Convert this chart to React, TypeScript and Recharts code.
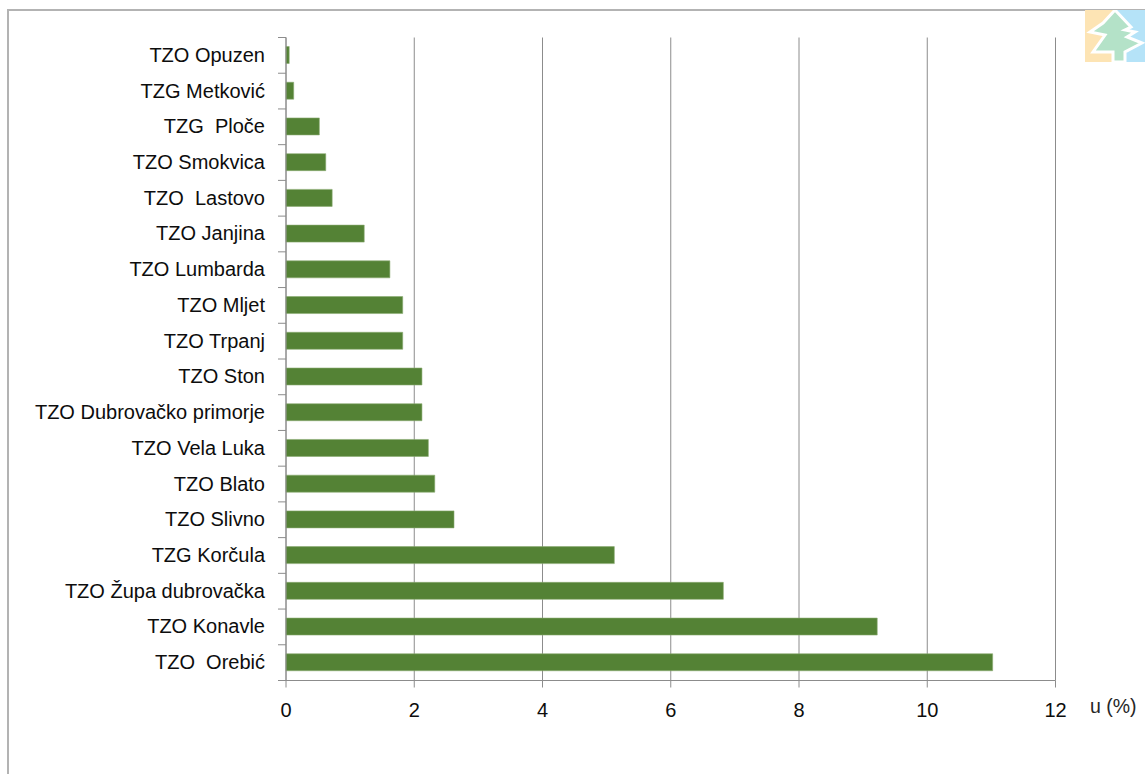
import React from "react";
import { BarChart, Bar, XAxis, YAxis, CartesianGrid } from "recharts";

const categories = [
  "TZO Opuzen", "TZG Metković", "TZG  Ploče", "TZO Smokvica", "TZO  Lastovo", "TZO Janjina",
  "TZO Lumbarda", "TZO Mljet", "TZO Trpanj", "TZO Ston", "TZO Dubrovačko primorje", "TZO Vela Luka",
  "TZO Blato", "TZO Slivno", "TZG Korčula", "TZO Župa dubrovačka", "TZO Konavle", "TZO  Orebić",
];
const shares = [0.05, 0.12, 0.52, 0.62, 0.72, 1.22, 1.62, 1.82, 1.82, 2.12, 2.12, 2.22, 2.32, 2.62, 5.12, 6.82, 9.22, 11.02];
const xTicks = [0, 2, 4, 6, 8, 10, 12];
const axisLabel = "u (%)";
const rows = categories.map((name, i) => ({ name, value: shares[i] }));

const FONT = "'Liberation Sans', Arial, sans-serif";
const GRAY = "#8c8c8c";
const PLOT_TOP = 37.5;
const PLOT_HEIGHT = 643;
const BAND = PLOT_HEIGHT / categories.length;

const CategoryTick = (props: any) => {
  const { x, y, payload, index } = props;
  const rightEdge = x + 8;
  return (
    <g>
      <line x1={rightEdge - 8} x2={rightEdge} y1={y - BAND / 2} y2={y - BAND / 2} stroke={GRAY} strokeWidth={1} />
      {index === categories.length - 1 && (
        <line x1={rightEdge - 8} x2={rightEdge} y1={y + BAND / 2} y2={y + BAND / 2} stroke={GRAY} strokeWidth={1} />
      )}
      <text x={rightEdge - 21} y={y + 6.5} textAnchor="end" fontFamily={FONT} fontSize={20} fill="#0d0d0d" style={{ whiteSpace: "pre" }}>
        {payload.value}
      </text>
    </g>
  );
};

const Logo = () => (
  <svg width={60} height={52} viewBox="0 0 60 52" style={{ position: "absolute", left: 1085, top: 10 }}>
    <rect x={0} y={0} width={28} height={52} fill="#fde4b4" />
    <rect x={28} y={0} width={32} height={52} fill="#b5e3f8" />
    <polygon
      points="30,0 46,17 40,20 50,22 42,27 57,33 40,42 40,52 28,52 28,42 8,42 20,25 5,22 18,13"
      fill="#b4e2c8"
      stroke="#ffffff"
      strokeWidth={3}
    />
  </svg>
);

export default function App() {
  return (
    <div style={{ position: "absolute", left: 0, top: 0, width: 1145, height: 774, overflow: "hidden", background: "#fff" }}>
      <div style={{ position: "absolute", left: 7, top: 9, width: 1138, height: 1.5, background: "#b3b3b3" }} />
      <div style={{ position: "absolute", left: 7, top: 9, width: 1.5, height: 765, background: "#b3b3b3" }} />
      <Logo />
      <BarChart
        width={1145}
        height={774}
        data={rows}
        layout="vertical"
        margin={{ top: PLOT_TOP, right: 89.5, bottom: 0, left: 0 }}
        barCategoryGap="52%"
        style={{ position: "absolute", left: 0, top: 0 }}
      >
        <CartesianGrid horizontal={false} vertical stroke={GRAY} strokeWidth={1} />
        <XAxis
          type="number"
          domain={[0, 12]}
          ticks={xTicks}
          interval={0}
          height={93.5}
          stroke={GRAY}
          tickLine={{ stroke: GRAY }}
          tickSize={7}
          tickMargin={15}
          tick={{ fontFamily: FONT, fontSize: 20, fill: "#0d0d0d" }}
          label={{ value: axisLabel, position: "insideTopRight", offset: 0, dx: 81, dy: 18.5, fontFamily: FONT, fontSize: 19.5, fill: "#262626" }}
        />
        <YAxis
          type="category"
          dataKey="name"
          width={286}
          interval={0}
          stroke={GRAY}
          tickLine={false}
          tick={<CategoryTick />}
        />
        <Bar dataKey="value" fill="#548235" stroke="#8aab72" strokeWidth={0.6} barSize={17} isAnimationActive={false} />
      </BarChart>
    </div>
  );
}
